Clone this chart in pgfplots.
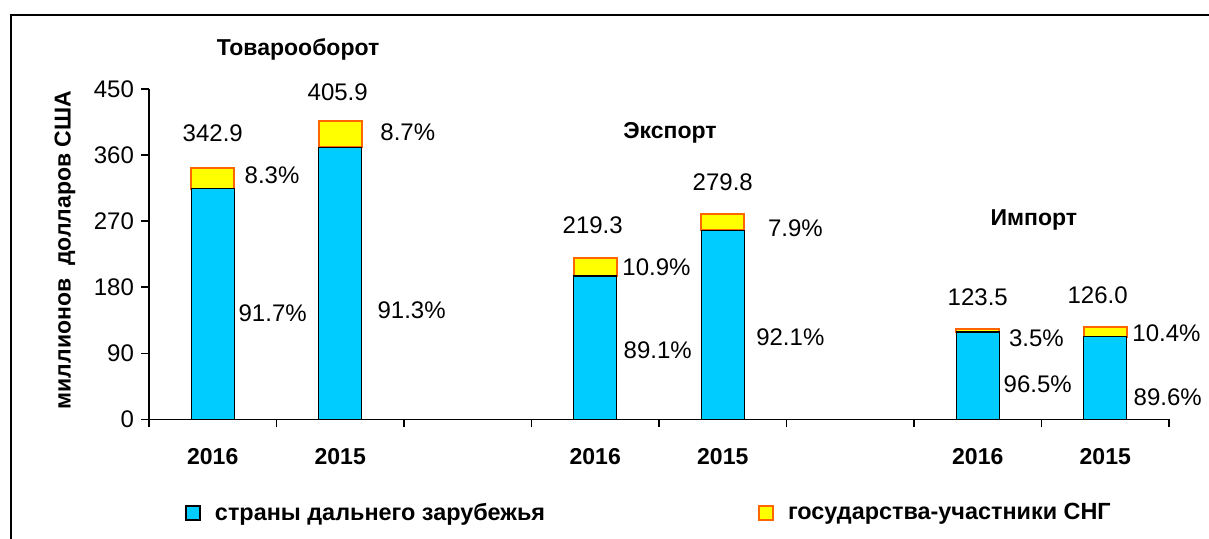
\documentclass[border=0pt]{standalone}
\usepackage{fontspec}
\setmainfont{Liberation Sans}
\usepackage{pgfplots}
\pgfplotsset{compat=1.18}
\definecolor{barblue}{HTML}{00CCFF}
\definecolor{baryellow}{HTML}{FFFF00}
\definecolor{barorange}{HTML}{FF6600}
\tikzset{grp/.style={font=\bfseries\fontsize{11.5}{13}\selectfont},
  val/.style={font=\fontsize{12}{14}\selectfont}}

\begin{document}
\begin{tikzpicture}
\useasboundingbox (0,0) rectangle (604.5pt,269.5pt);
% frame of the chart area (right and bottom sides lie outside the picture)
\draw[line width=1pt] (5.5pt,-5pt) -- (5.5pt,262pt) -- (620pt,262pt);
\begin{axis}[
  at={(74.5pt,59.75pt)}, anchor=south west,
  scale only axis, width=510pt, height=165.25pt,
  xmin=-0.5, xmax=7.5, ymin=0, ymax=450,
  ybar stacked, bar width=21.5pt,
  axis x line*=bottom, axis y line*=left,
  axis line style={line width=0.8pt},
  tick style={black, line width=0.8pt},
  tick align=outside, major tick length=4pt,
  ytick={0,90,...,450},
  xtick={-0.5,0.5,...,7.5}, xticklabels={},
  extra x ticks={0,1,3,4,6,7},
  extra x tick labels={2016,2015,2016,2015,2016,2015},
  extra x tick style={major tick length=0pt,
    xticklabel style={font=\bfseries\fontsize{11.5}{13}\selectfont, yshift=-11pt}},
  /pgf/number format/assume math mode=true,
  yticklabel style={font=\fontsize{12}{14}\selectfont},
  ylabel={миллионов\ \ долларов США},
  ylabel style={font=\bfseries\fontsize{11.5}{13}\selectfont,
    at={(axis description cs:-0.0824,0.513)}, anchor=center},
  clip=false,
  legend columns=2,
  legend style={at={(axis description cs:0.0353,-0.283)}, anchor=west,
    draw=none, fill=none, inner sep=0pt,
    font=\bfseries\fontsize{11.7}{14}\selectfont,
    nodes={inner sep=0pt},
    /tikz/every odd column/.append style={column sep=7pt},
    /tikz/every even column/.append style={column sep=106.5pt}},
]
\addplot[fill=barblue, draw=black, line width=0.6pt,
  legend image code/.code={\draw[fill=barblue, draw=black, line width=0.8pt] (0pt,-3.5pt) rectangle (7pt,3.5pt);}]
  coordinates {(0,314.4)(1,370.6)(3,195.4)(4,257.7)(6,119.2)(7,112.9)};
\addlegendentry{страны дальнего зарубежья}
\addplot[fill=baryellow, draw=barorange, line width=1pt,
  legend image code/.code={\draw[fill=baryellow, draw=barorange, line width=1pt] (0pt,-3.5pt) rectangle (7pt,3.5pt);}]
  coordinates {(0,28.5)(1,35.3)(3,23.9)(4,22.1)(6,4.3)(7,13.1)};
\addlegendentry{государства-участники СНГ}

% group titles
\node[grp] at (axis cs:0.669,504.5) {Товарооборот};
\node[grp] at (axis cs:3.586,390) {Экспорт};
\node[grp] at (axis cs:6.44,271.6) {Импорт};

% totals and shares
\node[val] at (axis cs:0,390) {342.9};
\node[val] at (axis cs:0.98,446) {405.9};
\node[val] at (axis cs:2.98,265) {219.3};
\node[val] at (axis cs:4.0,323) {279.8};
\node[val] at (axis cs:6.0,167) {123.5};
\node[val] at (axis cs:6.94,169.5) {126.0};
\node[val] at (axis cs:0.465,333) {8.3\%};
\node[val] at (axis cs:0.47,145) {91.7\%};
\node[val] at (axis cs:1.53,391) {8.7\%};
\node[val] at (axis cs:1.56,149) {91.3\%};
\node[val] at (axis cs:3.48,207.6) {10.9\%};
\node[val] at (axis cs:3.49,94.6) {89.1\%};
\node[val] at (axis cs:4.57,260.8) {7.9\%};
\node[val] at (axis cs:4.53,112.3) {92.1\%};
\node[val] at (axis cs:6.46,111) {3.5\%};
\node[val] at (axis cs:6.47,48) {96.5\%};
\node[val] at (axis cs:7.48,117.8) {10.4\%};
\node[val] at (axis cs:7.49,30) {89.6\%};
\end{axis}
\end{tikzpicture}
\end{document}
